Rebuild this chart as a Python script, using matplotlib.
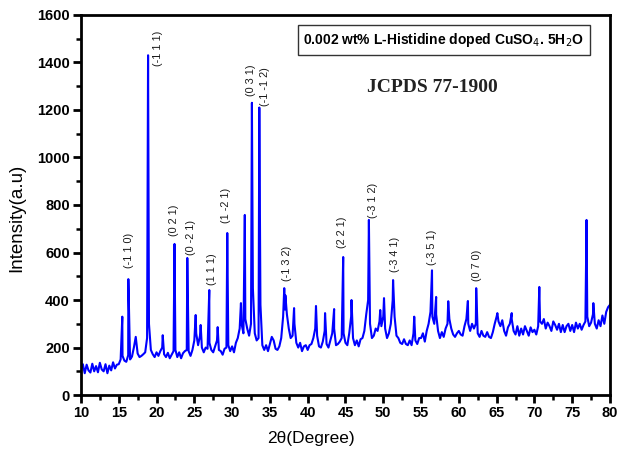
import numpy as np
import matplotlib
matplotlib.use('Agg')
import matplotlib.pyplot as plt
from matplotlib.ticker import MultipleLocator

# baseline intensity read every 0.25 deg from 10 to 80
base_start = 10.0
base_step = 0.25
base_vals = [
    108, 130, 92, 128, 104, 95, 132, 100, 122, 96, 136, 108, 100, 130, 92, 124, 104, 138, 112, 128,        # 10-15
    130, 150, 165, 145, 140, 168, 150, 162, 200, 245, 175, 160, 165, 172, 180, 240, 300, 190, 172, 160,    # 15-20
    180, 165, 185, 200, 172, 160, 178, 155, 170, 185, 190, 160, 180, 155, 176, 185, 190, 185, 165, 190,    # 20-25
    230, 260, 210, 250, 200, 180, 200, 195, 220, 190, 180, 205, 230, 190, 185, 170, 195, 200, 210, 185,    # 25-30
    205, 180, 220, 240, 280, 300, 260, 320, 280, 250, 300, 450, 260, 230, 240, 380, 210, 190, 210, 185,    # 30-35
    215, 245, 230, 195, 190, 205, 240, 330, 360, 340, 280, 240, 250, 300, 220, 200, 220, 185, 205, 210,    # 35-40
    190, 210, 215, 240, 280, 250, 205, 200, 225, 270, 215, 200, 230, 260, 280, 210, 215, 225, 240, 260,    # 40-45
    220, 210, 260, 330, 240, 210, 230, 205, 235, 240, 270, 340, 400, 300, 240, 250, 280, 270, 310, 290,    # 45-50
    330, 280, 240, 260, 300, 400, 330, 250, 240, 220, 215, 235, 215, 210, 230, 210, 260, 230, 215, 240,    # 50-55
    240, 260, 225, 270, 300, 350, 330, 300, 340, 270, 240, 265, 245, 280, 300, 320, 280, 255, 245, 260,    # 55-60
    270, 255, 250, 290, 320, 300, 270, 300, 280, 300, 260, 245, 270, 250, 245, 265, 245, 240, 265, 300,    # 60-65
    330, 310, 290, 315, 270, 250, 285, 300, 320, 270, 255, 290, 250, 280, 255, 290, 270, 250, 285, 265,    # 65-70
    275, 255, 290, 310, 300, 320, 280, 305, 290, 270, 310, 295, 275, 300, 265, 295, 265, 290, 300, 270,    # 70-75
    295, 265, 305, 280, 300, 275, 295, 310, 330, 290, 305, 340, 300, 280, 315, 290, 335, 300, 350, 370,    # 75-80
    380,
]

# sharp reflections (2theta, intensity)
peak_pos = [15.47, 16.27, 18.88, 20.82, 22.38, 24.07, 25.18, 25.84, 26.98, 28.09, 29.36,
            31.17, 31.68, 32.62, 33.60, 36.90, 37.05, 38.20, 41.10, 42.30, 43.50, 44.70,
            45.80, 48.10, 49.60, 50.10, 51.30, 54.10, 56.45, 57.00, 58.60, 61.20, 62.30,
            65.10, 67.00, 70.65, 76.90, 77.80]
peak_int = [330, 488, 1430, 252, 636, 577, 337, 295, 442, 286, 682,
            387, 758, 1230, 1210, 450, 420, 366, 375, 345, 362, 581,
            400, 737, 358, 408, 484, 330, 525, 413, 395, 396, 450,
            345, 345, 455, 737, 387]

# Miller index labels: text, x, centre intensity
hkl_text = ['(-1 1 0)', '(-1 1 1)', '(0 2 1)', '(0 -2 1)', '(1 1 1)', '(1 -2 1)', '(0 3 1)',
            '(-1 -1 2)', '(-1 3 2)', '(2 2 1)', '(-3 1 2)', '(-3 4 1)', '(-3 5 1)', '(0 7 0)']
hkl_x = [16.3, 20.2, 22.3, 24.5, 27.3, 29.2, 32.45, 34.35, 37.2, 44.6, 48.7, 51.55, 56.4, 62.45]
hkl_y = [610, 1460, 737, 665, 530, 800, 1326, 1300, 556, 686, 817, 590, 620, 547]

base_x = base_start + base_step * np.arange(len(base_vals))
x = np.concatenate([base_x, peak_pos])
y = np.concatenate([base_vals, peak_int])
order = np.argsort(x)
x = x[order]
y = y[order]

fig = plt.figure(figsize=(6.18, 4.5), dpi=100)
ax = fig.add_axes([0.131, 0.122, 0.856, 0.845])
ax.plot(x, y, color='#0000ff', lw=1.5)

ax.set_xlim(10, 80)
ax.set_ylim(0, 1600)
ax.xaxis.set_major_locator(MultipleLocator(5))
ax.xaxis.set_minor_locator(MultipleLocator(2.5))
ax.yaxis.set_major_locator(MultipleLocator(200))
ax.yaxis.set_minor_locator(MultipleLocator(100))
ax.tick_params(which='major', direction='out', length=6, width=2, labelsize=10.5, pad=2)
ax.tick_params(which='minor', direction='out', length=3.5, width=1.8)
for lab in ax.get_xticklabels() + ax.get_yticklabels():
    lab.set_fontweight('bold')
    lab.set_family('Liberation Sans')
for s in ax.spines.values():
    s.set_linewidth(2)

ax.set_xlabel('2θ(Degree)', fontsize=12.5, family='Liberation Sans')
ax.set_ylabel('Intensity(a.u)', fontsize=13.5, family='Liberation Sans')
ax.xaxis.set_label_coords(0.435, -0.095)
ax.yaxis.set_label_coords(-0.105, 0.466)

for t, tx, ty in zip(hkl_text, hkl_x, hkl_y):
    ax.text(tx, ty, t, rotation=90, ha='center', va='center', fontsize=7.8,
            family='Liberation Sans', color='#1a1a1a')

ax.text(0.686, 0.934, '0.002 wt% L-Histidine doped CuSO$_4$. 5H$_2$O', transform=ax.transAxes,
        ha='center', va='center', fontsize=10, fontweight='bold', family='Liberation Sans',
        bbox=dict(boxstyle='square,pad=0.4', fc='white', ec='#333333', lw=1))
ax.text(0.664, 0.81, 'JCPDS 77-1900', transform=ax.transAxes, ha='center', va='center',
        fontsize=14, fontweight='bold', family='Liberation Serif', color='#222222')

fig.savefig('out.png', dpi=100)
